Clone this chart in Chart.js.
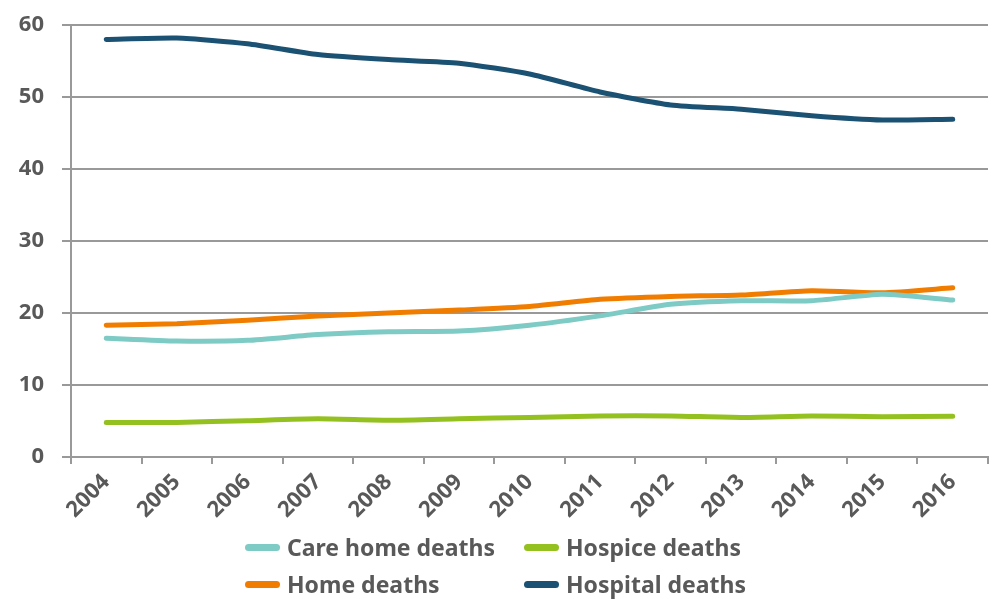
<!DOCTYPE html>
<html>
<head>
<meta charset="utf-8">
<script src="https://cdn.jsdelivr.net/npm/chart.js@4"></script>
<style>
  html, body { margin: 0; padding: 0; background: #fff; }
  #wrap { position: relative; width: 992px; height: 599px; }
  #legend {
    position: absolute; left: 245px; top: 532px;
    display: grid; grid-template-columns: 279px 260px; row-gap: 7px;
    font-family: "Noto Sans", sans-serif; font-weight: bold; font-size: 23px; color: #595959;
  }
  .item { display: flex; align-items: center; height: 30px; white-space: nowrap; }
  .swatch { width: 35px; height: 7px; border-radius: 4px; margin-right: 7px; }
</style>
</head>
<body>
<div id="wrap">
  <canvas id="chart" width="992" height="599"></canvas>
  <div id="legend"></div>
</div>
<script>
const years = ['2004', '2005', '2006', '2007', '2008', '2009', '2010', '2011', '2012', '2013', '2014', '2015', '2016'];
const careHome = [16.5, 16.1, 16.2, 17.0, 17.4, 17.5, 18.3, 19.6, 21.2, 21.7, 21.7, 22.6, 21.8];
const hospice = [4.8, 4.8, 5.05, 5.3, 5.1, 5.3, 5.5, 5.7, 5.7, 5.5, 5.7, 5.6, 5.65];
const home = [18.3, 18.5, 19.0, 19.6, 20.0, 20.4, 20.9, 21.9, 22.3, 22.5, 23.1, 22.8, 23.5];
const hospital = [58.0, 58.2, 57.4, 55.9, 55.2, 54.7, 53.2, 50.7, 48.9, 48.3, 47.4, 46.8, 46.9];

const textColor = '#595959';
const gridColor = '#999999';
const tickFont = { family: 'Noto Sans', weight: 'bold', size: 22 };

document.addEventListener('DOMContentLoaded', () => {
    const ctx = document.getElementById('chart');

    const series = [
        { label: 'Care home deaths', data: careHome, color: '#7ecac4' },
        { label: 'Hospice deaths', data: hospice, color: '#94c11f' },
        { label: 'Home deaths', data: home, color: '#f07d00' },
        { label: 'Hospital deaths', data: hospital, color: '#1b5173' }
    ];

    const chart = new Chart(ctx, {
        type: 'line',
        data: {
            labels: years,
            datasets: series.map(s => ({
                label: s.label,
                data: s.data,
                borderColor: s.color,
                backgroundColor: s.color,
                borderWidth: 5,
                borderCapStyle: 'round',
                borderJoinStyle: 'round',
                pointRadius: 0,
                tension: 0.2,
                fill: false
            }))
        },
        options: {
            responsive: false,
            animation: false,
            layout: { padding: { top: 25, right: 4, left: 0, bottom: 72 } },
            plugins: {
                legend: { display: false },
                tooltip: { enabled: false }
            },
            scales: {
                x: {
                    offset: true,
                    grid: {
                        display: true,
                        drawOnChartArea: false,
                        offset: true,
                        color: gridColor,
                        lineWidth: 2,
                        tickLength: 7
                    },
                    border: { color: gridColor, width: 2 },
                    ticks: {
                        color: textColor,
                        font: tickFont,
                        minRotation: 45,
                        maxRotation: 45,
                        padding: 5
                    },
                    afterFit: s => { s.height = 70; }
                },
                y: {
                    min: 0,
                    max: 60,
                    ticks: {
                        stepSize: 10,
                        color: textColor,
                        font: tickFont,
                        padding: 18
                    },
                    grid: {
                        color: gridColor,
                        lineWidth: 2,
                        tickLength: 9
                    },
                    border: { color: gridColor, width: 2 },
                    afterFit: s => { s.width = 71; s.paddingTop = 0; s.paddingBottom = 0; }
                }
            }
        }
    });

    // legend laid out as a 2x2 grid like the original
    const legendEl = document.getElementById('legend');
    chart.data.datasets.forEach(ds => {
        const item = document.createElement('div');
        item.className = 'item';
        const sw = document.createElement('span');
        sw.className = 'swatch';
        sw.style.background = ds.borderColor;
        const txt = document.createElement('span');
        txt.textContent = ds.label;
        item.appendChild(sw);
        item.appendChild(txt);
        legendEl.appendChild(item);
    });
});
</script>
</body>
</html>
